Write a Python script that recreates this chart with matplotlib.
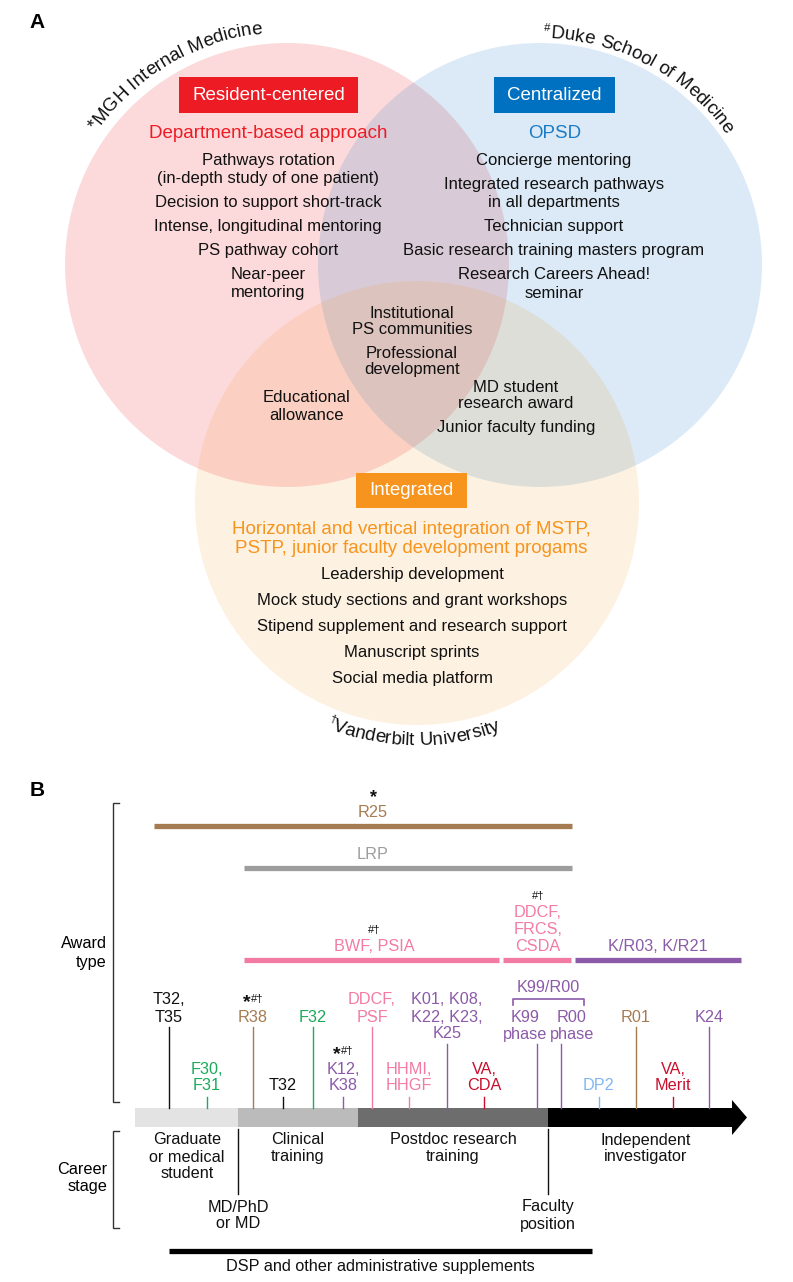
import numpy as np
import matplotlib
matplotlib.use('Agg')
import matplotlib.pyplot as plt
from matplotlib.patches import Circle, Rectangle, Polygon
from matplotlib.font_manager import FontProperties, findfont, get_font

FONT = ['Liberation Sans', 'DejaVu Sans']
plt.rcParams['font.family'] = FONT

# ======================= DATA: panel A (Venn) =======================
venn_titles = ['Resident-centered', 'Centralized', 'Integrated']
venn_sites = ['*MGH Internal Medicine', '#Duke School of Medicine', '\u2020Vanderbilt University']
venn_approach = ['Department-based approach', 'OPSD',
                 'Horizontal and vertical integration of MSTP,\nPSTP, junior faculty development progams']
mgh_items = ['Pathways rotation\n(in-depth study of one patient)', 'Decision to support short-track',
             'Intense, longitudinal mentoring', 'PS pathway cohort', 'Near-peer\nmentoring']
duke_items = ['Concierge mentoring', 'Integrated research pathways\nin all departments',
              'Technician support', 'Basic research training masters program',
              'Research Careers Ahead!\nseminar']
vu_items = ['Leadership development', 'Mock study sections and grant workshops',
            'Stipend supplement and research support', 'Manuscript sprints', 'Social media platform']
shared_all_items = ['Institutional\nPS communities', 'Professional\ndevelopment']
mgh_vu_items = ['Educational\nallowance']
duke_vu_items = ['MD student\nresearch award', 'Junior faculty funding']

# ======================= DATA: panel B (timeline) =======================
span_names = ['R25', 'LRP', 'BWF, PSIA', 'DDCF,\nFRCS,\nCSDA', 'K/R03, K/R21']
span_start = [154, 244, 244, 503, 575]
span_end = [572, 572, 499, 571, 741]
span_marks = ['*', '', '#\u2020', '#\u2020', '']

award_names = ['T32,\nT35', 'F30,\nF31', 'R38', 'T32', 'F32', 'K12,\nK38', 'DDCF,\nPSF',
               'HHMI,\nHHGF', 'K01, K08,\nK22, K23,\nK25', 'VA,\nCDA', 'K99\nphase',
               'R00\nphase', 'DP2', 'R01', 'VA,\nMerit', 'K24']
award_pos = [169, 207, 253, 283, 313, 343, 372, 409, 447, 484, 537, 561, 599, 636, 673, 709]
award_tier = ['high', 'low', 'high', 'low', 'high', 'low', 'high', 'low', 'mid', 'low',
              'mid', 'mid', 'low', 'high', 'low', 'high']
award_group = ['black', 'green', 'brown', 'black', 'green', 'purple', 'pink', 'pink', 'purple',
               'red', 'purple', 'purple', 'blue', 'brown', 'red', 'purple']
award_marks = ['', '', '*#\u2020', '', '', '*#\u2020', '', '', '', '', '', '', '', '', '', '']
bracket_name = 'K99/R00'

stage_names = ['Graduate\nor medical\nstudent', 'Clinical\ntraining',
               'Postdoc research\ntraining', 'Independent\ninvestigator']
stage_bounds = [135, 238, 358, 548, 747]
milestone_names = ['MD/PhD\nor MD', 'Faculty\nposition']
milestone_pos = [238, 548]
dsp_name = 'DSP and other administrative supplements'
dsp_span = [169, 592]

# ======================= STYLE =======================
C_RED, C_BLUE, C_ORANGE = '#ed1c24', '#0070c0', '#f7941d'
group_colors = {'black': '#111111', 'green': '#1aab5b', 'brown': '#a57c52',
                'purple': '#8b5aa8', 'pink': '#f27ba3', 'red': '#c8102e', 'blue': '#80b6f2'}
span_colors = ['#a57c52', '#9d9d9d', '#f27ba3', '#f27ba3', '#8b5aa8']
stage_colors = ['#e3e3e3', '#bbbbbb', '#6d6d6d', '#000000']

W, H, DPI = 793, 1282, 100
fig = plt.figure(figsize=(W / DPI, H / DPI), dpi=DPI)
ax = fig.add_axes([0, 0, 1, 1])
ax.set_xlim(0, W)
ax.set_ylim(H, 0)
ax.axis('off')
renderer = fig.canvas.get_renderer()

FS_HEAD = 13.5
FS_ITEM = 12
FS_B = 11.7


def text_width(s, fs, weight='normal'):
    fp = FontProperties(family=FONT, size=fs, weight=weight)
    w, h, d = renderer.get_text_width_height_descent(s, fp, ismath=False)
    return w


def stack(x, y0, items, fs, color='#111111', line_step=17.5, item_step=24):
    y = y0
    for it in items:
        lines = it.split('\n')
        for j, ln in enumerate(lines):
            ax.text(x, y, ln, ha='center', va='center', fontsize=fs, color=color)
            if j < len(lines) - 1:
                y += line_step
        y += item_step


def label_block(x, y_last, text, fs, color, step=17):
    lines = text.split('\n')
    n = len(lines)
    for j, ln in enumerate(lines):
        ax.text(x, y_last - (n - 1 - j) * step, ln, ha='center', va='center',
                fontsize=fs, color=color)


def curved_text(cx, cy, R, theta_mid, s, fs, clockwise=True, small_first=False):
    fp = FontProperties(family=FONT, size=fs)
    font = get_font(findfont(fp))
    sizes = []
    for i, ch in enumerate(s):
        f = fs * 0.6 if (small_first and i == 0) else fs
        font.set_size(f, DPI)
        g = font.load_char(ord(ch))
        sizes.append((f, g.linearHoriAdvance / 65536.0))
    total = sum(a for _, a in sizes)
    pos = -total / 2.0
    for i, ch in enumerate(s):
        f, adv = sizes[i]
        c = pos + adv / 2.0
        pos += adv
        if clockwise:
            th = np.radians(theta_mid) - c / R
            rot = np.degrees(th) - 90
        else:
            th = np.radians(theta_mid) + c / R
            rot = np.degrees(th) + 90
        rr = R
        if small_first and i == 0:
            rr = R + (7 if clockwise else -7)
        x = cx + rr * np.cos(th)
        y = cy - rr * np.sin(th)
        ax.text(x, y, ch, fontsize=f, rotation=rot, rotation_mode='anchor',
                ha='center', va='baseline', color='#111111')


def marks(x, yc, s):
    if s.startswith('*'):
        rest = s[1:]
        if rest:
            wa = text_width('*', 14, 'bold')
            wr = text_width(rest, 8)
            x0 = x - (wa + wr) / 2
            ax.text(x0, yc + 9, '*', fontsize=14, fontweight='bold', ha='left',
                    va='baseline', color='#111111')
            ax.text(x0 + wa + 0.5, yc + 4, rest, fontsize=8, ha='left', va='baseline',
                    color='#111111')
        else:
            ax.text(x, yc + 8, '*', fontsize=13, fontweight='bold', ha='center',
                    va='baseline', color='#111111')
    elif s:
        ax.text(x, yc + 4, s, fontsize=8, ha='center', va='baseline', color='#111111')


# ======================= PANEL A =======================
centers = [(287, 265), (540, 265), (417, 503)]
RAD = 222
fills = [(C_RED, 0.16), (C_BLUE, 0.14), (C_ORANGE, 0.13)]
for (cx, cy), (col, a) in zip(centers, fills):
    ax.add_patch(Circle((cx, cy), RAD, facecolor=col, alpha=a, edgecolor='none', zorder=1))

ax.text(37, 22, 'A', fontsize=15, fontweight='bold', ha='center', va='center')

# curved institution names
curved_text(287, 265, 233, 120.5, venn_sites[0], FS_HEAD, clockwise=True)
curved_text(540, 265, 227, 62.0, venn_sites[1], FS_HEAD, clockwise=True, small_first=True)
curved_text(417, 503, 242, -91.0, venn_sites[2], FS_HEAD, clockwise=False, small_first=True)

# title boxes
box_centers = [(268.5, 95), (554.5, 95), (411.5, 490.5)]
box_heights = [36, 36, 35]
for (bx, by), t, col, bh in zip(box_centers, venn_titles, [C_RED, C_BLUE, C_ORANGE], box_heights):
    w = text_width(t, FS_HEAD)
    pad = 13
    ax.add_patch(Rectangle((bx - w / 2 - pad, by - bh / 2), w + 2 * pad, bh,
                           facecolor=col, edgecolor='none', zorder=2))
    ax.text(bx, by, t, fontsize=FS_HEAD, color='white', ha='center', va='center', zorder=3)

# approach subtitles
ax.text(268, 133, venn_approach[0], fontsize=FS_HEAD, color=C_RED, ha='center', va='center')
ax.text(555, 133, venn_approach[1], fontsize=FS_HEAD, color='#1a7cc7', ha='center', va='center')
for j, ln in enumerate(venn_approach[2].split('\n')):
    ax.text(411, 529 + j * 19.5, ln, fontsize=FS_HEAD, color=C_ORANGE, ha='center', va='center')

# item lists
stack(268, 160, mgh_items, FS_ITEM, line_step=18.5, item_step=24)
stack(554, 160, duke_items, FS_ITEM, line_step=18.5, item_step=24)
stack(412, 575, vu_items, FS_ITEM, line_step=18, item_step=26)
stack(412, 313, shared_all_items, FS_ITEM, line_step=16.5, item_step=23.5)
stack(307, 398, mgh_vu_items, FS_ITEM, line_step=17)
stack(516, 387, duke_vu_items, FS_ITEM, line_step=16.5, item_step=24)

# ======================= PANEL B =======================
ax.text(37, 790, 'B', fontsize=15, fontweight='bold', ha='center', va='center')


def bracket(x, y0, y1):
    ax.plot([x + 6, x, x, x + 6], [y0, y0, y1, y1], color='#333333', lw=1.0,
            solid_joinstyle='miter')


bracket(113, 803, 1102)
bracket(113, 1131, 1228)
ax.text(107, 944, 'Award', fontsize=FS_B, ha='right', va='center')
ax.text(107, 962, 'type', fontsize=FS_B, ha='right', va='center')
ax.text(107, 1169, 'Career', fontsize=FS_B, ha='right', va='center')
ax.text(107, 1187, 'stage', fontsize=FS_B, ha='right', va='center')

# spanning awards
span_rows = [826, 868, 960, 960, 960]
span_label_x = [373, 373, 374, 538, 658]
for i, name in enumerate(span_names):
    ax.plot([span_start[i], span_end[i]], [span_rows[i], span_rows[i]],
            color=span_colors[i], lw=3.8, solid_capstyle='butt')
    label_block(span_label_x[i], span_rows[i] - 13.5, name, FS_B, span_colors[i], step=17)
    n = len(name.split('\n'))
    marks(span_label_x[i], span_rows[i] - 13.5 - (n - 1) * 17 - 18, span_marks[i])

# career bar
BAR_Y0, BAR_Y1 = 1108, 1127
for i in range(4):
    x0 = stage_bounds[i]
    x1 = stage_bounds[i + 1] if i < 3 else stage_bounds[4] - 15
    ax.add_patch(Rectangle((x0, BAR_Y0), x1 - x0, BAR_Y1 - BAR_Y0,
                           facecolor=stage_colors[i], edgecolor='none'))
ax.add_patch(Polygon([[stage_bounds[4] - 15, 1100], [stage_bounds[4], (BAR_Y0 + BAR_Y1) / 2],
                      [stage_bounds[4] - 15, 1135]], closed=True, facecolor='black',
                     edgecolor='none'))

# point awards
tier_top = {'high': 1027, 'mid': 1044, 'low': 1097}
tier_label = {'high': 1017, 'mid': 1034, 'low': 1086}
label_shift = {'K99\nphase': -12, 'R00\nphase': 11}
for i, name in enumerate(award_names):
    col = group_colors[award_group[i]]
    t = award_tier[i]
    ax.plot([award_pos[i], award_pos[i]], [tier_top[t], BAR_Y0], color=col, lw=1.0)
    lx = award_pos[i] + label_shift.get(name, 0)
    label_block(lx, tier_label[t], name, FS_B, col, step=17)
    n = len(name.split('\n'))
    marks(lx, tier_label[t] - (n - 1) * 17 - 19, award_marks[i])

# K99/R00 bracket
bx0, bx1 = 513, 584
ax.plot([bx0, bx0, bx1, bx1], [1005, 999, 999, 1005], color=group_colors['purple'], lw=1.2)
ax.text((bx0 + bx1) / 2, 987, bracket_name, fontsize=FS_B, color=group_colors['purple'],
        ha='center', va='center')

# stage labels
stage_label_x = [187, 298, 453, 646]
for x, name in zip(stage_label_x, stage_names):
    for j, ln in enumerate(name.split('\n')):
        ax.text(x, 1140 + j * 17, ln, fontsize=FS_B, ha='center', va='center', color='#111111')

for x, name in zip(milestone_pos, milestone_names):
    ax.plot([x, x], [1129, 1194], color='#111111', lw=1.0)
    for j, ln in enumerate(name.split('\n')):
        ax.text(x, 1207 + j * 17, ln, fontsize=FS_B, ha='center', va='center', color='#111111')

ax.plot(dsp_span, [1251, 1251], color='black', lw=3.8, solid_capstyle='butt')
ax.text(380, 1266, dsp_name, fontsize=FS_B, ha='center', va='center', color='#111111')

fig.savefig('out.png', dpi=DPI)
